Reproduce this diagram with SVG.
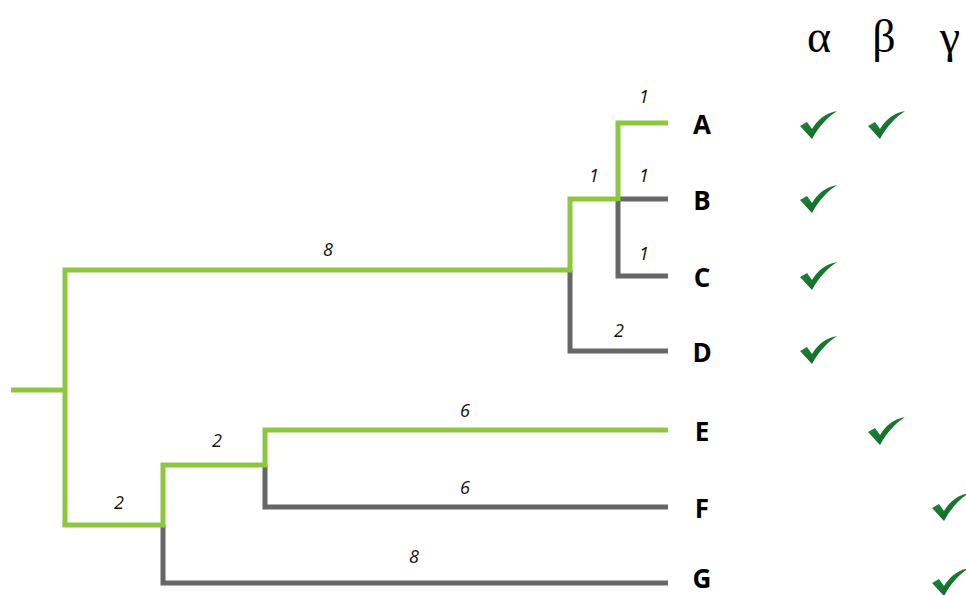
<svg xmlns="http://www.w3.org/2000/svg" xmlns:xlink="http://www.w3.org/1999/xlink" width="966" height="595" viewBox="0 0 966 595">
<style>
.g{stroke:#8dc63f;stroke-width:5;fill:none;stroke-linecap:butt}
.k{stroke:#666666;stroke-width:5;fill:none}
.n{font-family:"Open Sans","Liberation Sans",sans-serif;font-style:italic;font-size:18px;fill:#111;text-anchor:middle}
.l{font-family:"Open Sans","Liberation Sans",sans-serif;font-weight:bold;font-size:26px;fill:#000;text-anchor:middle}
.h{font-family:"Liberation Serif","Times New Roman",serif;font-size:46px;fill:#000;text-anchor:middle}
</style>
<defs>
<linearGradient id="cg" x1="0" y1="0" x2="1" y2="1">
<stop offset="0" stop-color="#23913d"/>
<stop offset="1" stop-color="#0a5a20"/>
</linearGradient>
<path id="chk" d="M-18,1 L-11,-3 L-6,4 C0,-6 8,-12 19,-14 C10,-8 1,1 -6,14 Z" fill="url(#cg)"/>
</defs>
<g id="connectors">
<path class="k" d="M570,270 V351 H668"/>
<path class="k" d="M618,199 V276 H668"/>
<path class="k" d="M618,199 H668"/>
<path class="k" d="M163,525 V583 H668"/>
<path class="k" d="M265,465 V507 H668"/>
<path class="g" d="M11,390 H65"/>
<path class="g" d="M65,525 V270 H570 V199 H618"/>
<path class="g" d="M618,201 V123 H668"/>
<path class="g" d="M65,522 V525 H163 V465 H265 V430 H668"/>
</g>
<g id="branch-labels">
<text class="n" x="644" y="103">1</text>
<text class="n" x="594" y="182">1</text>
<text class="n" x="644" y="182">1</text>
<text class="n" x="644" y="260">1</text>
<text class="n" x="328" y="256">8</text>
<text class="n" x="619" y="337">2</text>
<text class="n" x="465" y="417">6</text>
<text class="n" x="217" y="447">2</text>
<text class="n" x="465" y="494">6</text>
<text class="n" x="119" y="509">2</text>
<text class="n" x="414" y="563">8</text>
</g>
<g id="node-A"><text class="l" x="702" y="134">A</text></g>
<g id="node-B"><text class="l" x="702" y="210">B</text></g>
<g id="node-C"><text class="l" x="702" y="287">C</text></g>
<g id="node-D"><text class="l" x="702" y="362">D</text></g>
<g id="node-E"><text class="l" x="702" y="441">E</text></g>
<g id="node-F"><text class="l" x="702" y="518">F</text></g>
<g id="node-G"><text class="l" x="702" y="588">G</text></g>
<g id="headers">
<text class="h" x="819" y="52">α</text>
<text class="h" x="884" y="52">β</text>
<text class="h" x="950" y="52">γ</text>
</g>
<g id="checks">
<use xlink:href="#chk" x="818" y="125"/>
<use xlink:href="#chk" x="886" y="125"/>
<use xlink:href="#chk" x="818" y="199"/>
<use xlink:href="#chk" x="818" y="276"/>
<use xlink:href="#chk" x="818" y="350"/>
<use xlink:href="#chk" x="886" y="431"/>
<use xlink:href="#chk" x="950" y="507"/>
<use xlink:href="#chk" x="950" y="582"/>
</g>
</svg>
